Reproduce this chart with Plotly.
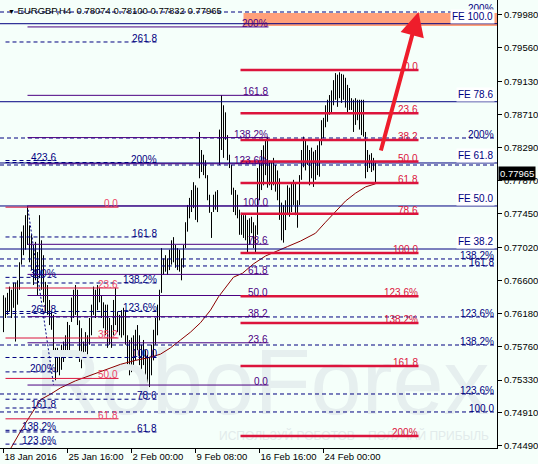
import plotly.graph_objects as go

# ---------------- DATA ----------------
bar_index = list(range(187))
opens = [
 0.7620,0.7625,0.7630,0.7635,0.7630,0.7640,0.7625,0.7645,0.7660,0.7683,
 0.7711,0.7722,0.7729,0.7708,0.7696,0.7680,0.7685,0.7669,0.7696,0.7680,
 0.7663,0.7639,0.7635,0.7620,0.7608,0.7597,0.7569,0.7558,0.7555,0.7562,
 0.7569,0.7576,0.7588,0.7588,0.7607,0.7630,0.7635,0.7626,0.7603,0.7574,
 0.7571,0.7582,0.7578,0.7590,0.7609,0.7629,0.7630,0.7639,0.7641,0.7632,
 0.7616,0.7609,0.7602,0.7595,0.7589,0.7603,0.7627,0.7607,0.7603,0.7604,
 0.7608,0.7599,0.7578,0.7562,0.7565,0.7570,0.7578,0.7588,0.7571,0.7561,
 0.7569,0.7552,0.7547,0.7543,0.7558,0.7578,0.7595,0.7609,0.7629,0.7648,
 0.7678,0.7682,0.7678,0.7686,0.7696,0.7700,0.7691,0.7687,0.7685,0.7674,
 0.7688,0.7705,0.7734,0.7752,0.7761,0.7769,0.7760,0.7756,0.7790,0.7812,
 0.7807,0.7802,0.7790,0.7762,0.7746,0.7747,0.7761,0.7761,0.7807,0.7852,
 0.7850,0.7857,0.7839,0.7813,0.7803,0.7769,0.7760,0.7755,0.7739,0.7732,
 0.7729,0.7728,0.7716,0.7723,0.7730,0.7720,0.7713,0.7730,0.7788,0.7800,
 0.7807,0.7817,0.7811,0.7798,0.7793,0.7799,0.7790,0.7781,0.7764,0.7737,
 0.7732,0.7743,0.7762,0.7760,0.7766,0.7773,0.7765,0.7745,0.7762,0.7794,
 0.7824,0.7820,0.7820,0.7807,0.7810,0.7802,0.7807,0.7813,0.7816,0.7839,
 0.7854,0.7867,0.7876,0.7883,0.7888,0.7900,0.7908,0.7901,0.7909,0.7905,
 0.7906,0.7899,0.7891,0.7891,0.7885,0.7877,0.7876,0.7877,0.7871,0.7868,
 0.7867,0.7843,0.7812,0.7812,0.7811,0.7808,0.78074]
highs = [
 0.7641,0.7638,0.7644,0.7652,0.7648,0.7657,0.7657,0.7660,0.7683,0.7722,
 0.7730,0.7743,0.7753,0.7730,0.7718,0.7705,0.7709,0.7696,0.7743,0.7711,
 0.7692,0.7658,0.7654,0.7635,0.7620,0.7616,0.7574,0.7574,0.7569,0.7578,
 0.7582,0.7590,0.7607,0.7603,0.7638,0.7648,0.7654,0.7648,0.7609,0.7599,
 0.7582,0.7594,0.7590,0.7612,0.7629,0.7652,0.7648,0.7654,0.7650,0.7641,
 0.7632,0.7629,0.7629,0.7612,0.7603,0.7635,0.7650,0.7620,0.7616,0.7622,
 0.7625,0.7620,0.7590,0.7584,0.7587,0.7590,0.7597,0.7603,0.7590,0.7578,
 0.7584,0.7571,0.7565,0.7561,0.7578,0.7597,0.7612,0.7629,0.7648,0.7701,
 0.7688,0.7692,0.7688,0.7699,0.7711,0.7715,0.7705,0.7701,0.7699,0.7688,
 0.7705,0.7734,0.7756,0.7765,0.7775,0.7785,0.7781,0.7778,0.7849,0.7826,
 0.7820,0.7813,0.7794,0.7769,0.7747,0.7769,0.7773,0.7775,0.7852,0.7896,
 0.7883,0.7874,0.7845,0.7820,0.7807,0.7778,0.7775,0.7769,0.7750,0.7746,
 0.7743,0.7743,0.7737,0.7739,0.7741,0.7734,0.7730,0.7803,0.7813,0.7826,
 0.7832,0.7839,0.7843,0.7813,0.7811,0.7816,0.7807,0.7800,0.7790,0.7759,
 0.7756,0.7762,0.7781,0.7778,0.7784,0.7788,0.7785,0.7762,0.7794,0.7826,
 0.7843,0.7839,0.7832,0.7826,0.7829,0.7824,0.7826,0.7832,0.7839,0.7864,
 0.7867,0.7883,0.7890,0.7896,0.7902,0.7915,0.7924,0.7922,0.7925,0.7923,
 0.7922,0.7918,0.7909,0.7905,0.7892,0.7890,0.7892,0.7890,0.7890,0.7890,
 0.7890,0.7849,0.7826,0.7820,0.7822,0.7816,0.78100]
lows = [
 0.7594,0.7612,0.7616,0.7620,0.7612,0.7625,0.7582,0.7629,0.7648,0.7680,
 0.7692,0.7699,0.7705,0.7683,0.7673,0.7654,0.7660,0.7641,0.7663,0.7648,
 0.7632,0.7620,0.7616,0.7603,0.7597,0.7569,0.7527,0.7543,0.7539,0.7546,
 0.7556,0.7561,0.7569,0.7571,0.7607,0.7612,0.7616,0.7603,0.7556,0.7548,
 0.7561,0.7569,0.7565,0.7578,0.7590,0.7616,0.7612,0.7622,0.7632,0.7612,
 0.7599,0.7590,0.7574,0.7578,0.7574,0.7590,0.7603,0.7594,0.7590,0.7587,
 0.7590,0.7578,0.7552,0.7539,0.7543,0.7548,0.7558,0.7571,0.7552,0.7543,
 0.7552,0.7533,0.7529,0.7524,0.7539,0.7558,0.7578,0.7590,0.7609,0.7644,
 0.7667,0.7671,0.7667,0.7673,0.7680,0.7683,0.7676,0.7673,0.7671,0.7660,
 0.7676,0.7701,0.7722,0.7739,0.7747,0.7752,0.7737,0.7734,0.7790,0.7798,
 0.7794,0.7790,0.7762,0.7746,0.7714,0.7747,0.7750,0.7747,0.7807,0.7826,
 0.7816,0.7839,0.7813,0.7803,0.7769,0.7747,0.7743,0.7739,0.7718,0.7718,
 0.7714,0.7711,0.7696,0.7705,0.7720,0.7701,0.7695,0.7718,0.7762,0.7775,
 0.7781,0.7794,0.7778,0.7781,0.7775,0.7781,0.7773,0.7762,0.7737,0.7711,
 0.7708,0.7724,0.7743,0.7741,0.7747,0.7756,0.7743,0.7727,0.7756,0.7788,
 0.7804,0.7800,0.7807,0.7781,0.7790,0.7779,0.7788,0.7794,0.7792,0.7832,
 0.7841,0.7855,0.7862,0.7871,0.7874,0.7883,0.7890,0.7881,0.7892,0.7886,
 0.7890,0.7880,0.7873,0.7877,0.7877,0.7849,0.7858,0.7864,0.7852,0.7845,
 0.7843,0.7790,0.7798,0.7803,0.7798,0.7800,0.77832]
closes = [
 0.7625,0.7630,0.7635,0.7630,0.7640,0.7625,0.7645,0.7660,0.7683,0.7711,
 0.7722,0.7729,0.7708,0.7696,0.7680,0.7685,0.7669,0.7696,0.7680,0.7663,
 0.7639,0.7635,0.7620,0.7608,0.7597,0.7569,0.7558,0.7555,0.7562,0.7569,
 0.7576,0.7588,0.7588,0.7603,0.7630,0.7635,0.7626,0.7603,0.7574,0.7571,
 0.7582,0.7578,0.7590,0.7609,0.7629,0.7630,0.7639,0.7641,0.7632,0.7616,
 0.7609,0.7602,0.7595,0.7589,0.7603,0.7627,0.7607,0.7603,0.7604,0.7608,
 0.7599,0.7578,0.7562,0.7565,0.7570,0.7578,0.7588,0.7571,0.7561,0.7569,
 0.7552,0.7547,0.7543,0.7558,0.7578,0.7595,0.7609,0.7629,0.7648,0.7678,
 0.7682,0.7678,0.7686,0.7696,0.7700,0.7691,0.7687,0.7685,0.7674,0.7688,
 0.7705,0.7734,0.7752,0.7761,0.7769,0.7760,0.7756,0.7778,0.7812,0.7807,
 0.7802,0.7790,0.7762,0.7746,0.7747,0.7761,0.7761,0.7775,0.7852,0.7850,
 0.7857,0.7839,0.7813,0.7803,0.7769,0.7760,0.7755,0.7739,0.7732,0.7729,
 0.7728,0.7716,0.7723,0.7730,0.7720,0.7713,0.7730,0.7788,0.7800,0.7807,
 0.7817,0.7811,0.7798,0.7793,0.7799,0.7790,0.7781,0.7764,0.7737,0.7732,
 0.7743,0.7762,0.7760,0.7766,0.7773,0.7765,0.7745,0.7762,0.7794,0.7824,
 0.7820,0.7820,0.7807,0.7810,0.7802,0.7807,0.7813,0.7816,0.7839,0.7854,
 0.7867,0.7876,0.7883,0.7888,0.7900,0.7908,0.7901,0.7909,0.7905,0.7906,
 0.7899,0.7891,0.7891,0.7885,0.7877,0.7876,0.7877,0.7871,0.7868,0.7867,
 0.7843,0.7812,0.7812,0.7811,0.7808,0.7807,0.77965]

# moving average
ma_bars = [2.5, 6, 9.5, 13.5, 18.5, 23.5, 28.5, 36, 43.5, 51, 58.5, 66, 73.5, 78.5,
           83.5, 88.5, 93.5, 98.5, 103.5, 107.5, 111.5, 115, 119.5, 125, 131, 136,
           142, 148.5, 156, 161, 166, 171, 176, 181, 186]
ma_vals = [0.7441, 0.7457, 0.7472, 0.7488, 0.7508, 0.7515, 0.7523, 0.7532, 0.7539,
           0.7546, 0.7553, 0.7558, 0.7562, 0.7566, 0.7574, 0.7584, 0.7594, 0.7606,
           0.7622, 0.7639, 0.7653, 0.7664, 0.7669, 0.7681, 0.7691, 0.7696, 0.7703,
           0.7710, 0.7720, 0.7734, 0.7747, 0.7761, 0.7771, 0.7779, 0.7783]

x_tick_bars = [0, 32, 64, 96, 128, 160]
x_tick_labels = ["18 Jan 2016", "25 Jan 16:00", "2 Feb 00:00", "9 Feb 08:00",
                 "16 Feb 16:00", "24 Feb 00:00"]
y_tick_vals = [0.79980, 0.79560, 0.79130, 0.78710, 0.78290, 0.77870, 0.77450,
               0.77020, 0.76600, 0.76180, 0.75760, 0.75330, 0.74910, 0.74490]
y_tick_labels = ["%.5f" % v for v in y_tick_vals]

header_text = "EURGBP,H4  0.78074 0.78100 0.77832 0.77965"
last_price = 0.77965
watermark_text = "RoboForex"
watermark_slogan = "ИСПОЛЬЗУЙ РОБОТОВ – ПОЛУЧАЙ ПРИБЫЛЬ"

# Fibonacci tools: anchor prices (level 0, level 100), anchor bars (from, to)
std_ratios = [0, 23.6, 38.2, 50, 61.8, 78.6, 100, 123.6, 138.2, 161.8, 200]
std_labels = ["0.0", "23.6", "38.2", "50.0", "61.8", "78.6", "100.0", "123.6%",
              "138.2%", "161.8", "200%"]
red_fib_prices = [0.79279, 0.76948]
red_fib_bars = [118.5, 207.5]
small_red_prices = [0.77532, 0.73169]
small_red_bars = [1, 57.5]
small_red_ratios = [0, 23.6, 38.2, 50, 61.8]
small_red_labels = ["0.0", "23.6", "38.2", "50.0", "61.8"]
purple_fib_prices = [0.75266, 0.77547]
purple_fib_bars = [12, 132.5]
fe_prices = [0.75225, 0.79869]
fe_bars = [-1.75, 246.75]
fe_ratios = [38.2, 50, 61.8, 78.6, 100]
fe_labels = ["FE 38.2", "FE 50.0", "FE 61.8", "FE 78.6", "FE 100.0"]
dash1_prices = [0.73133, 0.75617]
dash1_bars = [1, 77]
dash1_ratios = [61.8, 78.6, 100, 123.6, 138.2, 161.8, 200, 261.8]
dash1_labels = ["61.8", "78.6", "100.0", "123.6%", "138.2%", "161.8", "200%", "261.8"]
dash3_prices = [0.73025, 0.742292]
dash3_bars = [1, 26.5]
dash3_ratios = [123.6, 138.2, 161.8, 200, 261.8, 300, 423.6]
dash3_labels = ["123.6%", "138.2%", "161.8", "200%", "261.8", "300%", "423.6"]
dash3_trend_bars = [12, 25]
dash3_trend_prices = [0.7755, 0.7527]
# full-width dashed levels with right-hand labels
dash2_levels = [0.80018, 0.78413, 0.78069, 0.76872, 0.76783, 0.76133, 0.75776,
                0.75152, 0.74923]
dash2_labels = ["200%", "200%", "", "138.2%", "161.8", "123.6%", "138.2%",
                "123.6%", "100.0"]
target_zone_bars = [120, 247]
target_zone_prices = [0.79840, 0.80005]
arrow_bar_tip = 207.5
arrow_price_tip = 0.80018

# ---------------- FIGURE ----------------
FONT = "Liberation Sans, Arial, sans-serif"
BG = "#F5FFFA"
NAVY = "#000080"
INDIGO = "#4B0082"
CRIMSON = "#DC143C"
X_RANGE = [-1.75, 246.75]

fig = go.Figure()

# watermark (behind candles)
fig.add_trace(go.Scatter(x=[129.25], y=[0.7519], mode="text", text=[watermark_text],
                         textfont=dict(family=FONT, size=92, color="#E6EFEF"),
                         hoverinfo="skip", showlegend=False))
fig.add_trace(go.Scatter(x=[175.25], y=[0.74604], mode="text",
                         text=[watermark_slogan],
                         textfont=dict(family=FONT, size=12, color="#E2EBEB"),
                         hoverinfo="skip", showlegend=False))

fig.add_trace(go.Scatter(x=ma_bars, y=ma_vals, mode="lines",
                         line=dict(color="#8B0000", width=1),
                         hoverinfo="skip", showlegend=False))

fig.add_trace(go.Ohlc(x=bar_index, open=opens, high=highs, low=lows, close=closes,
                      increasing=dict(line=dict(color="black", width=1)),
                      decreasing=dict(line=dict(color="black", width=1)),
                      tickwidth=0, hoverinfo="skip", showlegend=False))

shapes = []
annotations = []

shapes.append(dict(type="rect", xref="x", yref="y",
                   x0=target_zone_bars[0], x1=target_zone_bars[1],
                   y0=target_zone_prices[0], y1=target_zone_prices[1],
                   fillcolor="#FFA07A", line=dict(width=0), layer="above"))


def add_label(xv, price, text, color, xref="x", bg=None, size=10):
    a = dict(x=xv, y=price, xref=xref, yref="y", text=text, showarrow=False,
             xanchor="right", yanchor="bottom", yshift=-3, borderpad=0,
             font=dict(family=FONT, size=size, color=color))
    if bg:
        a["bgcolor"] = bg
    annotations.append(a)


def fib(prices, bars, ratios, labels, color, width, dash, label_color):
    p0, p100 = prices
    for r, lab in zip(ratios, labels):
        price = p0 + (p100 - p0) * r / 100.0
        shapes.append(dict(type="line", xref="x", yref="y", x0=bars[0], x1=bars[1],
                           y0=price, y1=price,
                           line=dict(color=color, width=width, dash=dash)))
        if lab:
            add_label(bars[1], price, lab, label_color)


DASH = "4px,3px"
# full width dashed
for lev, lab in zip(dash2_levels, dash2_labels):
    shapes.append(dict(type="line", xref="x", yref="y", x0=X_RANGE[0], x1=X_RANGE[1],
                       y0=lev, y1=lev, line=dict(color=NAVY, width=1, dash=DASH)))
    if lab:
        annotations.append(dict(x=1, y=lev, xref="paper", yref="y", text=lab,
                                showarrow=False, xanchor="right", yanchor="bottom",
                                xshift=-2, yshift=-3, borderpad=0,
                                font=dict(family=FONT, size=10, color=NAVY)))

fib(dash1_prices, dash1_bars, dash1_ratios, dash1_labels, NAVY, 1, DASH, NAVY)
fib(dash3_prices, dash3_bars, dash3_ratios, dash3_labels, NAVY, 1, DASH, NAVY)
shapes.append(dict(type="line", xref="x", yref="y", x0=dash3_trend_bars[0],
                   x1=dash3_trend_bars[1], y0=dash3_trend_prices[0],
                   y1=dash3_trend_prices[1], line=dict(color=NAVY, width=1, dash="2px,2px")))

# FE lines (navy solid, full width, labels at right with white box)
p0, p100 = fe_prices
for r, lab in zip(fe_ratios, fe_labels):
    price = p0 + (p100 - p0) * r / 100.0
    shapes.append(dict(type="line", xref="x", yref="y", x0=fe_bars[0], x1=fe_bars[1],
                       y0=price, y1=price, line=dict(color=NAVY, width=1)))
    annotations.append(dict(x=1, y=price, xref="paper", yref="y", text=lab,
                            showarrow=False, xanchor="right", yanchor="bottom",
                            xshift=-2, yshift=0, borderpad=1, bgcolor="white",
                            font=dict(family=FONT, size=10, color=NAVY)))

fib(purple_fib_prices, purple_fib_bars, std_ratios, std_labels, INDIGO, 1, "solid", INDIGO)
fib(small_red_prices, small_red_bars, small_red_ratios, small_red_labels, CRIMSON, 1,
    "solid", "#EE4466")
fib(red_fib_prices, red_fib_bars, std_ratios, std_labels, CRIMSON, 2.5, "solid", CRIMSON)

# red arrow
annotations.append(dict(x=arrow_bar_tip, y=arrow_price_tip, xref="x", yref="y",
                        ax=-38, ay=140, text="", showarrow=True, arrowhead=2,
                        arrowsize=1.2, arrowwidth=4, arrowcolor="#EE1D2B", standoff=0))

# header
annotations.append(dict(x=0, y=1, xref="paper", yref="paper", xanchor="left",
                        yanchor="top", xshift=6, yshift=-3, showarrow=False,
                        text="<span style='font-size:7px'>▼</span> " + header_text,
                        font=dict(family=FONT, size=9.5, color="black")))

# current price box
annotations.append(dict(x=1, y=last_price, xref="paper", yref="y", xanchor="left",
                        yanchor="middle", showarrow=False, text="%.5f" % last_price,
                        bgcolor="black", borderpad=1, xshift=1,
                        font=dict(family=FONT, size=9.5, color="white")))

fig.update_layout(
    width=538, height=464,
    margin=dict(l=0, r=41, t=0, b=16),
    paper_bgcolor=BG, plot_bgcolor=BG,
    shapes=shapes, annotations=annotations,
    showlegend=False,
    xaxis=dict(range=X_RANGE, rangeslider=dict(visible=False),
               showgrid=False, zeroline=False, showline=True, linecolor="black",
               linewidth=1, ticks="outside", ticklen=4, tickcolor="black",
               tickvals=x_tick_bars, ticktext=x_tick_labels, tickangle=0,
               ticklabelposition="outside right",
               tickfont=dict(family=FONT, size=9.5, color="black")),
    yaxis=dict(range=[0.74464, 0.80171], side="right", showgrid=False, zeroline=False,
               showline=True, linecolor="black", linewidth=1, ticks="outside",
               ticklen=4, tickcolor="black", tickvals=y_tick_vals,
               ticktext=y_tick_labels,
               tickfont=dict(family=FONT, size=9.5, color="black")),
)

fig.write_html("out.html", config={"displayModeBar": False},
               post_script="document.body.style.margin='0';"
                           "document.body.style.background='%s';" % BG)
